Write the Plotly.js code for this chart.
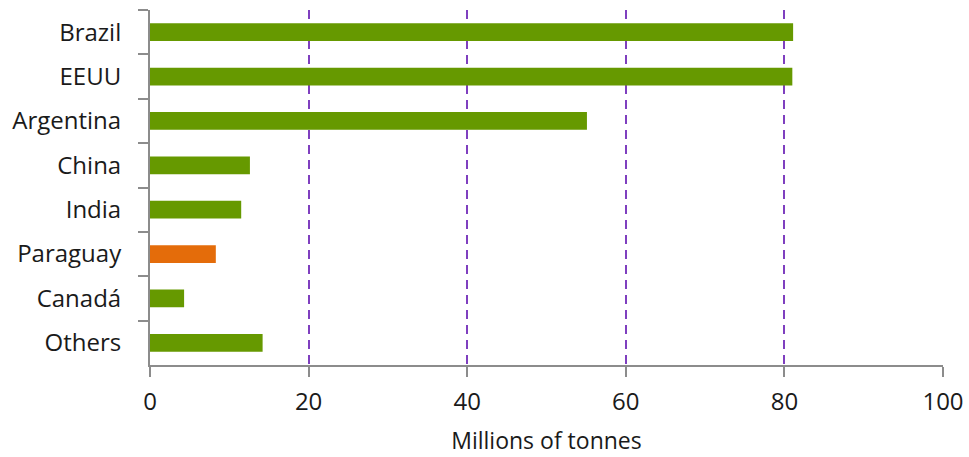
<!DOCTYPE html>
<html><head><meta charset="utf-8">
<script src="https://cdn.plot.ly/plotly-3.0.1.min.js"></script>
<style>html,body{margin:0;padding:0;background:#fff;}#chart{width:969px;height:457px;}</style>
</head><body><div id="chart"></div>
<script>
const countries = ["Brazil","EEUU","Argentina","China","India","Paraguay","Canadá","Others"];
const production = [81.1, 81.0, 55.1, 12.6, 11.5, 8.3, 4.3, 14.2];
const barColors = ["#669900","#669900","#669900","#669900","#669900","#E46C0A","#669900","#669900"];
const xTicks = [0,20,40,60,80,100];
const xTitle = "Millions of tonnes";

const font = "'Open Sans', sans-serif";
Plotly.newPlot('chart', [{
  type:'bar', orientation:'h', y:countries, x:production,
  marker:{color:barColors}, hoverinfo:'none'
}], {
  width:969, height:457,
  margin:{l:150, r:26, t:10, b:92},
  paper_bgcolor:'#fff', plot_bgcolor:'#fff',
  bargap:0.6, showlegend:false,
  font:{family:font, size:24, color:'#1a1a1a'},
  xaxis:{range:[0,100], tickvals:xTicks, showgrid:true, gridcolor:'#7F3FBF', griddash:'9px,6px', gridwidth:2,
    zeroline:false, showline:true, linecolor:'#8c8c8c', linewidth:2, ticks:'outside', ticklen:10, tickwidth:2, tickcolor:'#8c8c8c',
    ticklabelstandoff:4, tickfont:{size:24}, title:{text:xTitle, font:{size:23}, standoff:17}, fixedrange:true},
  yaxis:{type:'category', autorange:'reversed', showline:true, linecolor:'#8c8c8c', linewidth:2, ticks:'outside', tickson:'boundaries',
    ticklen:10, tickwidth:2, tickcolor:'#8c8c8c', showgrid:false, ticklabelstandoff:22, tickfont:{size:24}, fixedrange:true}
}, {staticPlot:true});
</script></body></html>
